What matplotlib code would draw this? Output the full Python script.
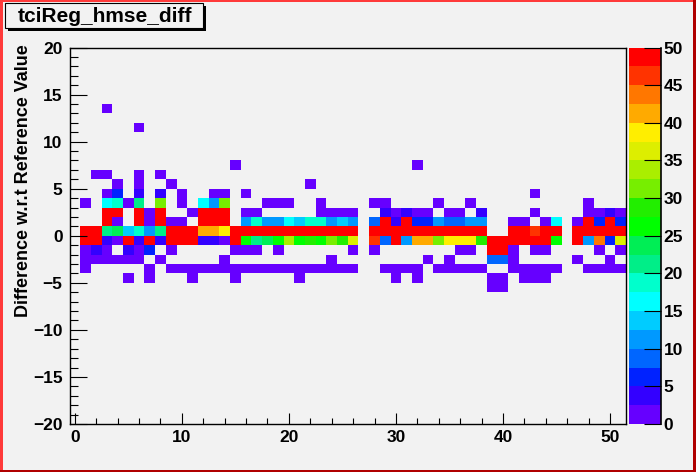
import numpy as np
import matplotlib

matplotlib.use("Agg")
import matplotlib.pyplot as plt
from matplotlib.colors import ListedColormap, BoundaryNorm
from matplotlib.patches import Rectangle

TITLE = "tciReg_hmse_diff"
Y_TITLE = "Difference w.r.t Reference Value"

x_edges = np.arange(-0.5, 52.0, 1.0)   # 52 bins centred on 0..51
y_edges = np.arange(-20.0, 21.0, 1.0)  # 40 bins of width 1
z_levels = np.arange(0.0, 50.1, 2.5)   # 20 contour levels like the palette

# ROOT-like palette, one colour per contour level (bottom -> top)
palette = [
    "#6600ff", "#3300ff", "#0022ff", "#0066ff", "#0099ff",
    "#00ccff", "#00ffff", "#00ffcc", "#00ee88", "#00ee55",
    "#00ff00", "#22ee00", "#77ee00", "#aaee00", "#ddee00",
    "#ffee00", "#ffaa00", "#ff7700", "#ff3300", "#ff0000",
]

R = 60  # saturated bins (above the top of the z range)

# bin contents for x = 1..51, one list per y bin [y, y+1)
row_13 = [0, 0, 1] + [0] * 48
row_11 = [0] * 5 + [1] + [0] * 45
row_7 = [0] * 14 + [1] + [0] * 16 + [1] + [0] * 19
row_6 = [0, 1, 1, 0, 0, 1, 0, 1] + [0] * 43
row_5 = [0, 0, 0, 1, 0, 1, 0, 0, 1] + [0] * 12 + [1] + [0] * 29
row_4 = [0, 0, 1, 6, 0, 4, 0, 4, 0, 1,
         0, 0, 1, 1, 0, 1, 0, 0, 0, 0,
         0, 0, 0, 0, 0, 0, 0, 0, 0, 0,
         0, 0, 0, 0, 0, 0, 0, 0, 0, 0,
         0, 0, 1, 0, 0, 0, 0, 0, 0, 0, 0]
row_3 = [1, 0, 16, 19, 1, 21, 0, 31, 0, 1,
         0, 16, 11, 31, 0, 0, 0, 1, 1, 1,
         0, 0, 1, 0, 0, 0, 0, 1, 1, 0,
         0, 0, 0, 1, 0, 0, 1, 0, 0, 0,
         0, 0, 0, 0, 0, 0, 0, 1, 0, 0, 0]
row_2 = [0, 0, R, R, 0, R, 1, R, 0, 0,
         1, R, R, R, 0, 1, 1, 0, 0, 0,
         0, 0, 1, 1, 1, 1, 0, 0, 4, 1,
         4, 1, 1, 0, 1, 1, 0, 4, 0, 0,
         0, 0, 1, 0, 0, 0, 0, 1, 1, 4, 1]
row_1 = [0, 0, R, 1, 0, R, 1, R, 1, 1,
         0, R, R, R, 0, 11, 19, 11, 11, 16,
         14, 19, 19, 11, 14, 11, 0, 9, R, 4,
         R, 6, 6, 11, 9, 9, 11, 11, 0, 0,
         1, 1, 0, 1, 16, 0, 1, R, 6, R, 6]
row_0 = [R, R, 21, 24, 14, 19, 11, 21, R, R,
         R, 41, 41, 39, R, R, R, R, R, R,
         R, R, R, R, R, R, 0, R, R, R,
         R, R, R, R, R, R, R, R, 0, 0,
         R, R, 46, R, R, 0, R, R, R, R, R]
row_m1 = [R, R, 4, 1, R, 4, R, 4, R, R,
          R, 4, 4, 1, R, 26, 21, 24, 26, 34,
          26, 29, 26, 31, 29, 36, 0, 46, 9, R,
          11, 41, 41, 31, 39, 39, 39, 29, R, R,
          R, R, R, R, 26, 0, R, 11, 44, 6, 36]
row_m2 = [1, 4, 1, 0, 4, 1, 6, 0, 1, 0,
          0, 0, 0, 0, 1, 1, 1, 0, 1, 0,
          0, 0, 0, 0, 0, 1, 0, 1, 0, 0,
          0, 0, 0, 0, 0, 1, 1, 0, R, R,
          1, 0, 1, 1, 0, 0, 0, 0, 1, 0, 1]
row_m3 = [1, 1, 1, 1, 1, 1, 0, 1, 0, 0,
          0, 0, 0, 1, 0, 0, 0, 0, 0, 0,
          0, 0, 0, 1, 0, 0, 0, 0, 0, 0,
          0, 0, 1, 0, 1, 0, 0, 0, 9, 9,
          1, 0, 0, 0, 0, 0, 1, 0, 0, 1, 0]
row_m4 = [1, 0, 0, 0, 0, 0, 1, 0, 1, 1,
          1, 1, 1, 1, 1, 1, 1, 1, 1, 1,
          1, 1, 1, 1, 1, 1, 0, 0, 1, 1,
          1, 1, 0, 1, 1, 1, 1, 1, 0, 0,
          1, 1, 1, 1, 1, 0, 0, 1, 1, 1, 1]
row_m5 = [0, 0, 0, 0, 1, 0, 1, 0, 0, 0,
          1, 0, 0, 0, 1, 0, 0, 0, 0, 0,
          1, 0, 0, 0, 0, 0, 0, 0, 0, 1,
          0, 1, 0, 0, 0, 0, 0, 0, 1, 1,
          0, 1, 1, 1, 0, 0, 0, 0, 0, 0, 0]
row_m6 = [0] * 38 + [1, 1] + [0] * 11

rows = {13: row_13, 11: row_11, 7: row_7, 6: row_6, 5: row_5, 4: row_4,
        3: row_3, 2: row_2, 1: row_1, 0: row_0, -1: row_m1, -2: row_m2,
        -3: row_m3, -4: row_m4, -5: row_m5, -6: row_m6}

counts = np.zeros((len(y_edges) - 1, len(x_edges) - 1))
for y_low, values in rows.items():
    counts[y_low + 20, 1:1 + len(values)] = values
counts = np.ma.masked_equal(counts, 0)

BG = "#f2f2f2"
W, H = 696, 472
FONT = "Liberation Sans"
AX_L, AX_R, AX_T, AX_B = 69.5, 626.0, 47.5, 424.0  # frame in pixels


def fx(px):
    return px / W


def fy(py):
    return 1 - py / H


fig = plt.figure(figsize=(W / 100, H / 100), dpi=100, facecolor=BG)

cmap = ListedColormap(palette)
cmap.set_over(palette[-1])
norm = BoundaryNorm(z_levels, cmap.N)

ax = fig.add_axes([fx(AX_L), fy(AX_B), fx(AX_R) - fx(AX_L), fy(AX_T) - fy(AX_B)])
ax.set_facecolor(BG)
mesh = ax.pcolormesh(x_edges, y_edges, counts, cmap=cmap, norm=norm)
ax.set_xlim(-0.5, 51.5)
ax.set_ylim(-20, 20)

ax.set_xticks(np.arange(0, 51, 10))
ax.set_xticks(np.arange(0, 52, 2), minor=True)
ax.set_yticks(np.arange(-20, 21, 5))
ax.set_yticks(np.arange(-20, 21, 1), minor=True)
ax.tick_params(axis="x", which="major", direction="in", length=8, width=0.8, pad=4)
ax.tick_params(axis="x", which="minor", direction="in", length=4, width=0.8)
ax.tick_params(axis="y", which="major", direction="in", length=12.5, width=0.8, pad=5)
ax.tick_params(axis="y", which="minor", direction="in", length=6, width=0.8)
for lab in ax.get_xticklabels() + ax.get_yticklabels():
    lab.set_fontfamily(FONT)
    lab.set_fontweight("bold")
    lab.set_fontsize(12.5)
for sp in ax.spines.values():
    sp.set_linewidth(1.0)

# axis title right-aligned at the top end, as ROOT does
ax.set_ylabel(Y_TITLE, fontfamily=FONT, fontweight="bold", fontsize=13, loc="top")
ax.yaxis.set_label_coords(-(AX_L - 32) / (AX_R - AX_L), 1 + 3 / (AX_B - AX_T))

# palette on the right
cax = fig.add_axes([fx(629), fy(AX_B), fx(661) - fx(629), fy(AX_T) - fy(AX_B)])
cbar = fig.colorbar(mesh, cax=cax, ticks=np.arange(0, 51, 5), extend="neither")
cbar.outline.set_visible(False)
cax.plot([1, 1], [0, 1], transform=cax.transAxes, color="black", lw=1.2, clip_on=False)
cax.yaxis.set_ticks_position("right")
cax.tick_params(axis="y", which="major", direction="in", length=12.5, width=0.8, pad=2)
cax.tick_params(axis="y", which="minor", length=0)
cax.set_yticklabels([str(v) for v in range(0, 51, 5)])
for lab in cax.get_yticklabels():
    lab.set_fontfamily(FONT)
    lab.set_fontweight("bold")
    lab.set_fontsize(12.5)

# title box with shadow
fig.patches.append(Rectangle((fx(8), fy(31)), fx(206) - fx(8), fy(6) - fy(31),
                             transform=fig.transFigure, facecolor="black", edgecolor="none"))
fig.patches.append(Rectangle((fx(5), fy(28)), fx(203) - fx(5), fy(3) - fy(28),
                             transform=fig.transFigure, facecolor=BG, edgecolor="black", lw=0.8))
fig.text(fx(105), fy(16.5), TITLE, ha="center", va="center", fontfamily=FONT,
         fontweight="bold", fontsize=15)

# canvas border (light top/left, dark bottom/right)
fig.patches.append(Rectangle((0, 0), fx(2.5), 1, transform=fig.transFigure,
                             facecolor="#ff3a3a", edgecolor="none"))
fig.patches.append(Rectangle((0, fy(2)), 1, 2 / H, transform=fig.transFigure,
                             facecolor="#ff3a3a", edgecolor="none"))
fig.patches.append(Rectangle((fx(693), 0), fx(3), 1, transform=fig.transFigure,
                             facecolor="#b00000", edgecolor="none"))
fig.patches.append(Rectangle((0, 0), 1, 2.5 / H, transform=fig.transFigure,
                             facecolor="#b00000", edgecolor="none"))

fig.savefig("out.png", dpi=100, facecolor=BG)
